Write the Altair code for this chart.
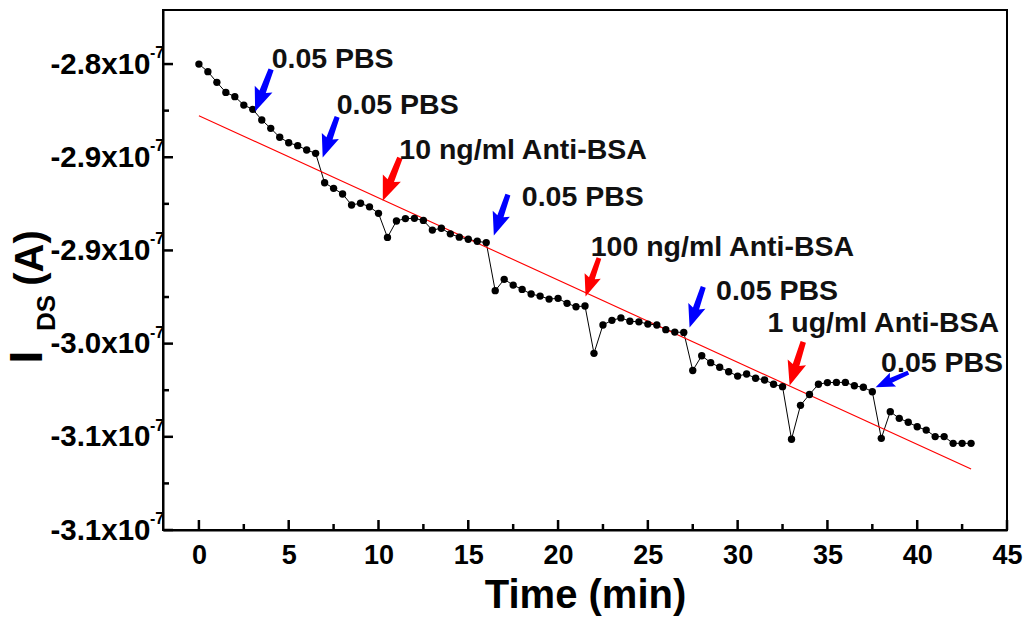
import math
import altair as alt
import pandas as pd

# ---------------- data ----------------
time_min = [0.0, 0.5, 1.0, 1.5, 2.0, 2.5, 3.0, 3.5, 4.0, 4.5,
            5.0, 5.5, 6.0, 6.5, 7.0, 7.5, 8.0, 8.5, 9.0, 9.5,
            10.0, 10.5, 11.0, 11.5, 12.0, 12.5, 13.0, 13.5, 14.0, 14.5,
            15.0, 15.5, 16.0, 16.5, 17.0, 17.5, 18.0, 18.5, 19.0, 19.5,
            20.0, 20.5, 21.0, 21.5, 22.0, 22.5, 23.0, 23.5, 24.0, 24.5,
            25.0, 25.5, 26.0, 26.5, 27.0, 27.5, 28.0, 28.5, 29.0, 29.5,
            30.0, 30.5, 31.0, 31.5, 32.0, 32.5, 33.0, 33.5, 34.0, 34.5,
            35.0, 35.5, 36.0, 36.5, 37.0, 37.5, 38.0, 38.5, 39.0, 39.5,
            40.0, 40.5, 41.0, 41.5, 42.0, 42.5, 43.0]

# I_DS in units of 1e-7 A
ids_1e7 = [-2.8000, -2.8041, -2.8098, -2.8152, -2.8175, -2.8220, -2.8243, -2.8300, -2.8345, -2.8393,
           -2.8422, -2.8438, -2.8461, -2.8479, -2.8637, -2.8667, -2.8697, -2.8756, -2.8747, -2.8766,
           -2.8801, -2.8930, -2.8842, -2.8829, -2.8828, -2.8839, -2.8891, -2.8881, -2.8911, -2.8929,
           -2.8940, -2.8951, -2.8958, -2.9216, -2.9155, -2.9186, -2.9209, -2.9234, -2.9245, -2.9261,
           -2.9257, -2.9284, -2.9302, -2.9298, -2.9552, -2.9400, -2.9375, -2.9362, -2.9380, -2.9383,
           -2.9395, -2.9400, -2.9425, -2.9438, -2.9440, -2.9644, -2.9565, -2.9602, -2.9627, -2.9651,
           -2.9674, -2.9663, -2.9686, -2.9695, -2.9718, -2.9731, -3.0013, -2.9831, -2.9773, -2.9718,
           -2.9709, -2.9708, -2.9708, -2.9726, -2.9734, -2.9758, -3.0008, -2.9865, -2.9901, -2.9922,
           -2.9946, -2.9964, -2.9999, -2.9999, -3.0035, -3.0035, -3.0035]

# linear fit line (red), end points
fit_time = [0.0, 43.0]
fit_ids = [-2.8277, -3.0173]

# injection arrows
arrow_kind = ["PBS", "PBS", "Anti-BSA", "PBS", "Anti-BSA", "PBS", "Anti-BSA", "PBS"]
arrow_tail_time = [3.99, 7.67, 11.16, 17.18, 22.25, 28.06, 33.63, 39.43]
arrow_tail_ids = [-2.8036, -2.8291, -2.8511, -2.8708, -2.9048, -2.9203, -2.9498, -2.9659]
arrow_tip_time = [3.16, 6.92, 10.27, 16.45, 21.56, 27.35, 32.92, 37.76]
arrow_tip_ids = [-2.8247, -2.8494, -2.8726, -2.8912, -2.9239, -2.9406, -2.9717, -2.9731]

# annotation labels (left edge, vertical centre)
label_text = ["0.05 PBS", "0.05 PBS", "10 ng/ml Anti-BSA", "0.05 PBS",
              "100 ng/ml Anti-BSA", "0.05 PBS", "1 ug/ml Anti-BSA", "0.05 PBS"]
label_time = [4.05, 7.67, 11.16, 17.98, 21.82, 28.80, 31.66, 37.99]
label_ids = [-2.7975, -2.8220, -2.8461, -2.8712, -2.8983, -2.9216, -2.9391, -2.9606]

# axes
x_tick_values = [0, 5, 10, 15, 20, 25, 30, 35, 40, 45]
x_minor_values = [2.5, 7.5, 12.5, 17.5, 22.5, 27.5, 32.5, 37.5, 42.5]
y_tick_values = [-2.80, -2.85, -2.90, -2.95, -3.00, -3.05]
y_tick_labels = ["-2.8x10", "-2.9x10", "-2.9x10", "-3.0x10", "-3.1x10", "-3.1x10"]
y_minor_values = [-2.825, -2.875, -2.925, -2.975, -3.025]

# ---------------- layout ----------------
W, H = 844, 520
X_DOMAIN = [-2.0, 45.0]
Y_DOMAIN = [-3.05, -2.771]
FONT = "Liberation Sans"
MAJOR, MINOR = 10, 6  # inward tick lengths, px

xs = alt.Scale(domain=X_DOMAIN, nice=False, zero=False)
ys = alt.Scale(domain=Y_DOMAIN, nice=False, zero=False)

df = pd.DataFrame({"t": time_min, "v": ids_1e7})
fit_df = pd.DataFrame({"t": fit_time, "v": fit_ids})

sx = W / (X_DOMAIN[1] - X_DOMAIN[0])   # px per minute
sy = H / (Y_DOMAIN[1] - Y_DOMAIN[0])   # px per 1e-7 A

# arrow geometry (pixel direction -> rotation angle, pixel length -> symbol size)
rows = []
for k, t0, v0, t1, v1 in zip(arrow_kind, arrow_tail_time, arrow_tail_ids, arrow_tip_time, arrow_tip_ids):
    dx = (t1 - t0) * sx
    dy = -(v1 - v0) * sy
    ang = math.degrees(math.atan2(-dx, dy)) % 360
    length = math.hypot(dx, dy) + 3
    rows.append({"kind": k, "t": (t0 + t1) / 2, "v": (v0 + v1) / 2,
                 "angle": ang, "size": length * length})
arrow_df = pd.DataFrame(rows)

label_df = pd.DataFrame({"text": label_text, "t": label_time, "v": label_ids})
sup_df = pd.DataFrame({"v": y_tick_values})

# inward tick segments (two end points each), built from the tick arrays
tick_rows = []
for i, t in enumerate(x_tick_values + x_minor_values):
    length = MAJOR if t in x_tick_values else MINOR
    tick_rows.append({"id": f"x{i}", "t": t, "v": Y_DOMAIN[0]})
    tick_rows.append({"id": f"x{i}", "t": t, "v": Y_DOMAIN[0] + length / sy})
for i, v in enumerate(y_tick_values + y_minor_values):
    length = MAJOR if v in y_tick_values else MINOR
    tick_rows.append({"id": f"y{i}", "t": X_DOMAIN[0], "v": v})
    tick_rows.append({"id": f"y{i}", "t": X_DOMAIN[0] + length / sx, "v": v})
tick_df = pd.DataFrame(tick_rows)

label_expr = ""
for val, lab in zip(y_tick_values, y_tick_labels):
    label_expr += f"abs(datum.value - ({val})) < 0.001 ? '{lab}' : "
label_expr += "''"

x_axis = alt.Axis(values=x_tick_values, format="d", orient="bottom", ticks=False, tickSize=0,
                  domain=True, domainColor="black", domainWidth=2, grid=False,
                  labelFont=FONT, labelFontSize=27, labelFontWeight="bold", labelColor="black",
                  labelPadding=12, labelFlush=False, labelOverlap=False,
                  title="Time (min)", titleFont=FONT, titleFontSize=40, titleFontWeight="bold",
                  titleColor="black", titlePadding=7)

y_axis = alt.Axis(values=y_tick_values, labelExpr=label_expr, orient="left", ticks=False, tickSize=0,
                  domain=True, domainColor="black", domainWidth=2, grid=False,
                  labelFont=FONT, labelFontSize=29.5, labelFontWeight="bold", labelColor="black",
                  labelPadding=13, labelFlush=False, labelOverlap=False, title=None)

# first layer carries the axes
line = alt.Chart(df).mark_line(color="black", strokeWidth=1).encode(
    x=alt.X("t:Q", scale=xs, axis=x_axis),
    y=alt.Y("v:Q", scale=ys, axis=y_axis),
)

fit = alt.Chart(fit_df).mark_line(color="#ff0000", strokeWidth=1.1).encode(
    x=alt.X("t:Q", scale=xs, axis=None),
    y=alt.Y("v:Q", scale=ys, axis=None),
)

points = alt.Chart(df).mark_point(filled=True, size=54, color="black", opacity=1).encode(
    x=alt.X("t:Q", scale=xs, axis=None),
    y=alt.Y("v:Q", scale=ys, axis=None),
)

ticks = alt.Chart(tick_df).mark_line(color="black", strokeWidth=2.5, strokeCap="butt").encode(
    x=alt.X("t:Q", scale=xs, axis=None),
    y=alt.Y("v:Q", scale=ys, axis=None),
    detail="id:N",
)

ARROW_PATH = "M -0.12 -1 L 0.12 -1 L 0.15 0.06 L 0.42 -0.06 L 0 1 L -0.42 -0.06 L -0.15 0.06 Z"
arrows = alt.Chart(arrow_df).mark_point(filled=True, shape=ARROW_PATH, opacity=1, strokeWidth=0).encode(
    x=alt.X("t:Q", scale=xs, axis=None),
    y=alt.Y("v:Q", scale=ys, axis=None),
    angle=alt.Angle("angle:Q", scale=None),
    size=alt.Size("size:Q", scale=None, legend=None),
    color=alt.Color("kind:N", scale=alt.Scale(domain=["PBS", "Anti-BSA"], range=["#0000ff", "#ff0000"]),
                    legend=None),
)

labels = alt.Chart(label_df).mark_text(align="left", baseline="middle", font=FONT, fontWeight="bold",
                                       fontSize=28.5, color="#111111").encode(
    x=alt.X("t:Q", scale=xs, axis=None),
    y=alt.Y("v:Q", scale=ys, axis=None),
    text="text:N",
)

superscripts = alt.Chart(sup_df).mark_text(text="-7", align="left", baseline="middle", font=FONT,
                                           fontWeight="bold", fontSize=16, color="black", dy=-11).encode(
    x=alt.value(-13),
    y=alt.Y("v:Q", scale=ys, axis=None),
)

dummy = pd.DataFrame({"k": [0]})
title_i = alt.Chart(dummy).mark_text(text="I", angle=270, align="center", baseline="middle", font=FONT,
                                     fontWeight="bold", fontSize=46, color="black").encode(
    x=alt.value(-135), y=alt.value(347))
title_ds = alt.Chart(dummy).mark_text(text="DS", angle=270, align="center", baseline="middle", font=FONT,
                                      fontWeight="bold", fontSize=26, color="black").encode(
    x=alt.value(-116), y=alt.value(303))
title_a = alt.Chart(dummy).mark_text(text="(A)", angle=270, align="center", baseline="middle", font=FONT,
                                     fontWeight="bold", fontSize=40, color="black").encode(
    x=alt.value(-132), y=alt.value(248))

chart = alt.layer(
    line, fit, points, arrows, labels, superscripts,
    title_i, title_ds, title_a, ticks
).resolve_axis(
    x="independent", y="independent"
).properties(
    width=W, height=H,
    padding={"left": 163, "top": 10, "right": 23, "bottom": 91},
    autosize=alt.AutoSizeParams(type="none"),
    background="white",
).configure_view(
    stroke="black", strokeWidth=2
)

chart.save("out.html", embed_options={"renderer": "svg", "actions": False})
